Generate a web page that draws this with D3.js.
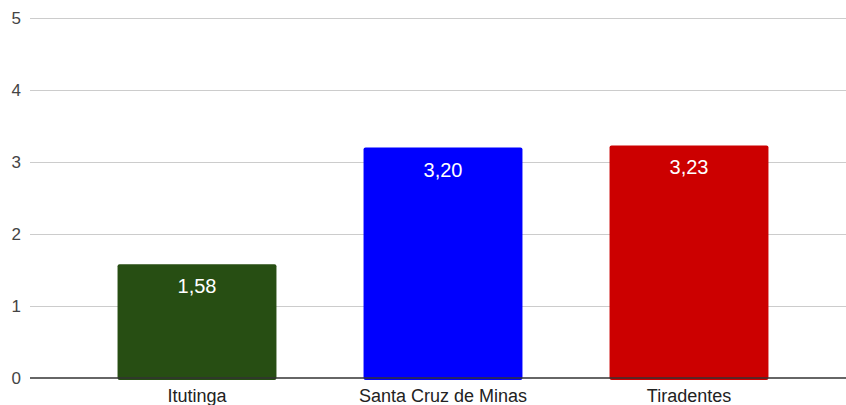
<!DOCTYPE html>
<html>
<head>
<meta charset="utf-8">
<script src="https://cdn.jsdelivr.net/npm/d3@7"></script>
<style>
  body { margin: 0; background: #fff; }
  svg { display: block; font-family: "Liberation Sans", Arial, sans-serif; }
</style>
</head>
<body>
<div id="chart"></div>
<script>
// data
const cities = ["Itutinga", "Santa Cruz de Minas", "Tiradentes"]
const values = [1.58, 3.20, 3.23]
const barColors = ["#274e13", "#0000ff", "#cc0000"]
const yTicks = [0, 1, 2, 3, 4, 5]

const width = 846, height = 405

const svg = d3.select("#chart").append("svg")
    .attr("width", width)
    .attr("height", height)

const y = d3.scaleLinear()
    .domain([0, 5])
    .range([378, 18])

const x = d3.scaleBand()
    .domain(cities)
    .range([74, 812])
    .paddingInner(0.354)
    .paddingOuter(0.177)

// gridlines
svg.append("g")
    .selectAll("line")
    .data(yTicks.filter(d => d > 0))
    .enter()
    .append("line")
    .attr("x1", 30)
    .attr("x2", 846)
    .attr("y1", d => y(d) + 0.5)
    .attr("y2", d => y(d) + 0.5)
    .attr("stroke", "#cccccc")
    .attr("stroke-width", 1)

// y axis labels
const yAxis = d3.axisLeft(y)
    .tickValues(yTicks)
    .tickFormat(d3.format("d"))
    .tickSize(0)
    .tickPadding(0)
svg.append("g")
    .attr("transform", "translate(21,0)")
    .call(yAxis)
    .call(g => g.select(".domain").remove())
    .selectAll("text")
    .attr("font-size", 17)
    .attr("font-family", "Liberation Sans, Arial, sans-serif")
    .attr("fill", "#444444")

// bars
svg.append("g")
    .selectAll("rect")
    .data(values)
    .enter()
    .append("rect")
    .attr("x", (d, i) => x(cities[i]))
    .attr("y", d => y(d))
    .attr("width", x.bandwidth())
    .attr("height", d => y(0) - y(d) + 2)
    .attr("rx", 2)
    .attr("fill", (d, i) => barColors[i])

// value labels
svg.append("g")
    .selectAll("text")
    .data(values)
    .enter()
    .append("text")
    .attr("x", (d, i) => x(cities[i]) + x.bandwidth() / 2)
    .attr("y", d => y(d) + 29)
    .attr("text-anchor", "middle")
    .attr("font-size", 20)
    .attr("fill", "#ffffff")
    .text(d => d.toFixed(2).replace(".", ","))

// baseline
svg.append("line")
    .attr("x1", 30)
    .attr("x2", 846)
    .attr("y1", y(0))
    .attr("y2", y(0))
    .attr("stroke", "#333333")
    .attr("stroke-width", 1.5)

// category axis
const xAxis = d3.axisBottom(x).tickSize(0).tickPadding(0)
svg.append("g")
    .attr("transform", "translate(0,389)")
    .call(xAxis)
    .call(g => g.select(".domain").remove())
    .selectAll("text")
    .attr("dy", "0.72em")
    .attr("font-size", 18)
    .attr("font-family", "Liberation Sans, Arial, sans-serif")
    .attr("fill", "#222222")
</script>
</body>
</html>
